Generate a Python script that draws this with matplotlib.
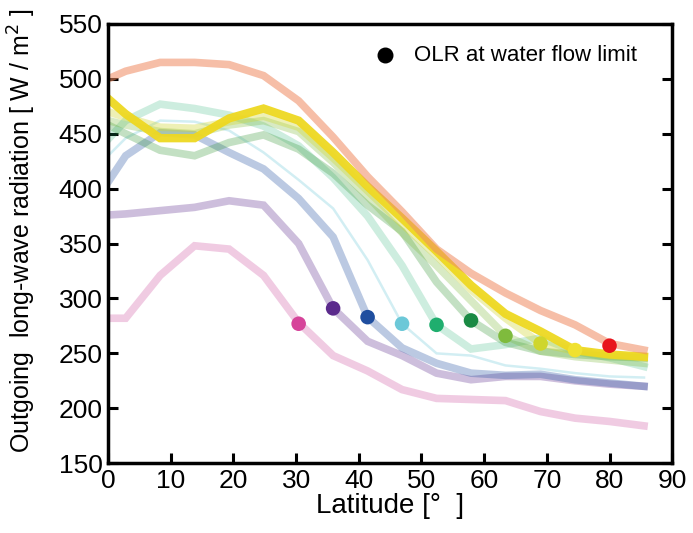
import matplotlib.pyplot as plt

plt.rcParams['font.family'] = ['Liberation Sans', 'DejaVu Sans']

# latitude grid of the model output
lat = [0, 2.8, 8.3, 13.8, 19.3, 24.8, 30.4, 35.9, 41.4, 46.9, 52.4, 57.9, 63.4, 69.0, 74.5, 80.0, 85.5]

# OLR profiles (W/m2), one per run
olr_pink = [282, 282, 321, 348, 345, 321, 278, 248, 234, 217, 209, 208, 207, 197, 191, 188, 184]
olr_purple = [376, 377, 380, 383, 389, 385, 350, 291, 261, 248, 232, 226, 229, 229, 225, 222, 220]
olr_blue = [406, 430, 451, 449, 433, 418, 391, 356, 283, 255, 241, 232, 230, 231, 226, 223, 220]
olr_cyan = [430, 446, 462, 461, 453, 433, 408, 382, 335, 277, 250, 248, 239, 236, 232, 229, 228]
olr_mint = [445, 462, 477, 473, 467, 457, 439, 410, 375, 330, 276, 254, 258, 264, 252, 246, 238]
olr_green = [458, 450, 435, 430, 442, 449, 436, 414, 385, 361, 315, 280, 260, 252, 249, 247, 246]
olr_lime = [462, 458, 452, 450, 458, 462, 452, 424, 393, 360, 330, 298, 266, 252, 247, 244, 241]
olr_ygreen = [470, 465, 456, 455, 461, 466, 456, 428, 398, 368, 339, 308, 282, 259, 252, 248, 246]
olr_yellow = [482, 468, 446, 446, 464, 473, 462, 433, 402, 373, 343, 312, 286, 270, 253, 249, 247]
olr_orange = [500, 507, 515, 515, 513, 503, 480, 447, 411, 379, 345, 323, 305, 289, 276, 259, 253]

# OLR at the water flow limit
dot_lat = [30.4, 35.9, 41.4, 46.9, 52.4, 57.9, 63.4, 69.0, 74.5, 80.0]
dot_olr = [277, 291, 283, 277, 276, 280, 266, 259, 253, 257]
dot_colors = ['#d6449a', '#5b2a8c', '#1f4e9f', '#6cc8d8', '#1fae6e',
              '#1a8a44', '#7fbb3d', '#cfd62d', '#f0e130', '#e8141c']

profiles = [olr_pink, olr_purple, olr_blue, olr_cyan, olr_mint,
            olr_green, olr_lime, olr_ygreen, olr_yellow, olr_orange]
line_colors = ['#d977b5', '#5b2a8c', '#1f4e9f', '#6cc8d8', '#1fae6e',
               '#3a9a3a', '#7fbb3d', '#cfd62d', '#eed821', '#ef8a60']
line_alpha = [0.38, 0.3, 0.3, 0.3, 0.22, 0.3, 0.3, 0.35, 0.95, 0.55]
line_width = [5.5, 5.5, 5.5, 1.8, 5.5, 5.5, 5.5, 5.5, 6.0, 5.5]

fig = plt.figure(figsize=(6.93, 5.33), dpi=100)
ax = fig.add_axes([0.156, 0.131, 0.814, 0.824])

for y, c, a, lw in zip(profiles, line_colors, line_alpha, line_width):
    ax.plot(lat, y, color=c, alpha=a, lw=lw, solid_joinstyle='miter', zorder=2)

ax.scatter(dot_lat, dot_olr, s=110, c=dot_colors, edgecolors='none', zorder=5)

# legend
ax.scatter([0.491], [0.929], s=110, c='black', transform=ax.transAxes, clip_on=False)
ax.text(0.542, 0.929, 'OLR at water flow limit', transform=ax.transAxes,
        fontsize=16, va='center', ha='left')

ax.set_xlim(0, 90)
ax.set_ylim(150, 550)
ax.set_xticks(range(0, 91, 10))
ax.set_yticks(range(150, 551, 50))
ax.tick_params(direction='in', length=7, width=2.2, labelsize=19, pad=4,
               right=True, top=False)
for s in ax.spines.values():
    s.set_linewidth(2.5)

ax.set_xlabel('Latitude [°  ]', fontsize=20, labelpad=0)
ax.set_ylabel('Outgoing  long-wave radiation [ W / m$^2$ ]', fontsize=18)
ax.yaxis.set_label_coords(-0.125, 0.53)

fig.savefig('out.png', dpi=100)
